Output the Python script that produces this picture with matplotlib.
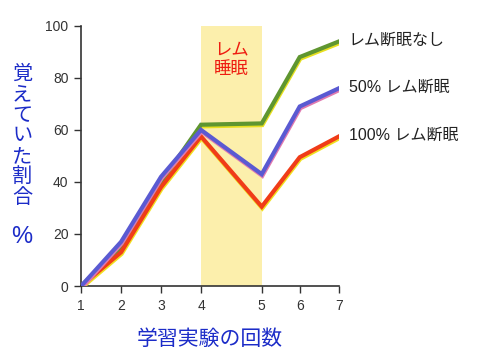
import matplotlib
matplotlib.use("Agg")
import matplotlib.pyplot as plt
import matplotlib.patheffects as pe

plt.rcParams['font.family'] = ['Liberation Sans', 'Noto Sans CJK JP', 'DejaVu Sans']

# data
trials = ["1", "2", "3", "4", "5", "6", "7"]
no_interrupt = [0, 15, 40, 62, 62.5, 88, 94]
half_interrupt = [0, 17, 42, 60, 43, 69, 76]
full_interrupt = [0, 13, 38, 57.5, 30.5, 49.5, 57.5]
series_names = ["レム断眠なし", "50% レム断眠", "100% レム断眠"]
rem_band = ("4", "5")

# the original axis is not evenly spaced between trial 4 and 5
x_pos = [0, 1, 2, 3, 4.52, 5.47, 6.45]

fig = plt.figure(figsize=(4.8, 3.54), dpi=100)
ax = fig.add_axes([0.169, 0.192, 0.537, 0.735])

b0 = x_pos[trials.index(rem_band[0])]
b1 = x_pos[trials.index(rem_band[1])]
ax.axvspan(b0, b1, color="#fcefac", zorder=0, lw=0)
ax.text((b0 + b1) / 2, 94.5, "レム\n睡眠", color="#ee1c10", ha="center", va="top",
        fontsize=12.5, linespacing=1.1, family=['Noto Sans CJK JP'])

colors = ["#5f9630", "#5a5ad2", "#f03c18"]
shadow = ["#e8e020", "#e07ab0", "#f0e020"]
order = [0, 2, 1]
data = [no_interrupt, half_interrupt, full_interrupt]
for i in order:
    ax.plot(x_pos, data[i], color=colors[i], lw=3.0, solid_joinstyle="miter", zorder=3,
            path_effects=[pe.SimpleLineShadow(offset=(0.4, -1.2), shadow_color=shadow[i],
                                              alpha=1.0, rho=1.0), pe.Normal()])
    ax.annotate(series_names[i], xy=(x_pos[-1], data[i][-1]), xytext=(7, 1),
                textcoords="offset points", va="center", ha="left", fontsize=11.5,
                color="#222222", annotation_clip=False,
                family=['Liberation Sans', 'Noto Sans CJK JP'])

ax.set_xlim(x_pos[0], x_pos[-1])
ax.set_ylim(0, 100)
ax.set_xticks(x_pos)
ax.set_xticklabels(trials)
ax.set_yticks([0, 20, 40, 60, 80, 100])
for s in ["top", "right"]:
    ax.spines[s].set_visible(False)
for s in ["left", "bottom"]:
    ax.spines[s].set_color("#333333")
    ax.spines[s].set_linewidth(1.2)
ax.tick_params(colors="#333333", labelsize=10, length=5, width=1, pad=4)

ax.set_xlabel("学習実験の回数", color="#1c2cc8", fontsize=15, labelpad=11,
              family=['Noto Sans CJK JP'])
fig.text(0.046, 0.616, "\n".join("覚えていた割合"), color="#1c2cc8", fontsize=14.5,
         ha="center", va="center", linespacing=0.97, family=['Noto Sans CJK JP'])
fig.text(0.046, 0.33, "%", color="#1c2cc8", fontsize=17, ha="center", va="center")

fig.savefig("out.png", dpi=100)
